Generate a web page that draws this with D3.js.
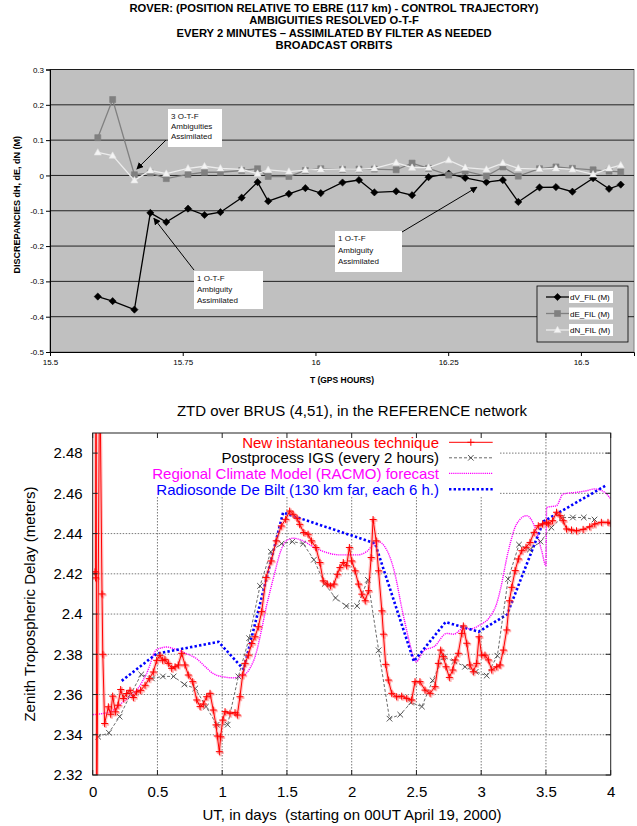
<!DOCTYPE html>
<html>
<head>
<meta charset="utf-8">
<script src="https://cdn.jsdelivr.net/npm/d3@7/dist/d3.min.js"></script>
<style>
html,body{margin:0;padding:0;background:#fff;}
svg{display:block;}
</style>
</head>
<body>
<svg id="chart" width="637" height="826"></svg>
<script>
// ===== Upper panel: rover discrepancies vs control trajectory =====
const topTitle = [
  "ROVER: (POSITION RELATIVE TO EBRE (117 km) - CONTROL TRAJECTORY)",
  "AMBIGUITIES RESOLVED  O-T-F",
  "EVERY 2 MINUTES \u2013 ASSIMILATED BY FILTER AS NEEDED",
  "BROADCAST ORBITS"
];
const gpsHours = [15.590,15.618,15.659,15.689,15.719,15.760,15.791,15.821,15.861,15.891,
  15.911,15.950,15.981,16.010,16.051,16.082,16.111,16.152,16.182,16.213,
  16.251,16.282,16.322,16.353,16.382,16.422,16.453,16.484,16.523,16.553,16.575];
const dV = [-0.343,-0.356,-0.380,-0.106,-0.132,-0.094,-0.112,-0.104,-0.063,-0.019,
  -0.073,-0.052,-0.036,-0.050,-0.020,-0.013,-0.048,-0.045,-0.056,-0.005,
  0.005,-0.007,-0.019,-0.013,-0.075,-0.034,-0.033,-0.046,-0.008,-0.038,-0.026];
const dE = [0.107,0.215,0.002,0.007,-0.009,0.003,0.009,0.009,0.014,0.019,
  -0.003,-0.003,0.014,0.019,0.017,0.018,0.018,0.016,0.035,0.020,
  0.001,0.012,-0.002,0.024,-0.002,0.019,0.024,0.020,0.016,0.012,0.010];
const dN = [0.065,0.056,-0.014,0.014,0.005,0.020,0.026,0.020,0.017,0.005,
  0.016,0.011,0.015,0.017,0.018,0.018,0.020,0.036,0.022,0.022,
  0.043,0.022,0.017,0.035,0.020,0.018,0.020,0.017,0.003,0.020,0.029];
const topYTicks = [0.3,0.2,0.1,0,-0.1,-0.2,-0.3,-0.4,-0.5];
const topXTicks = [15.5,15.75,16,16.25,16.5];
const topSeriesNames = ["dV_FIL (M)","dE_FIL (M)","dN_FIL (M)"];
const topNotes = [
  {lines:["3 O-T-F","Ambiguities","Assimilated"], at:[15.658,0.004]},
  {lines:["1 O-T-F","Ambiguity","Assimilated"], at:[15.690,-0.110]},
  {lines:["1 O-T-F","Ambiguity","Assimilated"], at:[16.308,-0.022]}
];

// ===== Lower panel: ZTD over BRUS =====
const newTechDays = [0.018,0.022,0.026,0.031,0.054,0.072,0.078,0.092,
  0.121,0.139,0.154,0.175,0.195,0.216,0.237,0.262,0.288,0.314,0.339,0.370,0.404,0.437,0.468,0.494,0.519,0.540,
  0.558,0.584,0.610,0.636,0.661,0.687,0.713,0.738,0.772,0.803,0.829,0.854,0.880,0.906,0.931,0.952,0.962,0.978,0.988,1.004,
  1.022,1.060,1.099,1.117,1.137,1.158,1.176,1.202,1.228,1.253,1.279,1.305,
  1.339,1.378,1.417,1.456,1.490,1.521,1.547,1.578,1.598,1.630,1.663,1.689,1.723,1.754,1.780,1.811,1.837,1.863,1.889,1.909,
  1.935,1.961,1.982,2.000,2.026,2.052,2.078,2.104,2.130,2.150,2.165,2.189,2.207,2.233,2.245,2.262,
  2.283,2.309,2.347,2.386,2.425,2.463,2.489,2.527,2.566,2.605,2.643,2.669,2.687,2.708,2.728,2.754,2.780,2.798,2.823,2.850,
  2.862,2.888,2.913,2.939,2.965,2.983,3.004,3.029,3.055,3.081,3.120,3.145,3.171,3.197,
  3.218,3.236,3.262,3.287,3.313,3.346,3.377,3.408,3.441,3.474,3.505,3.518,3.551,3.582,3.608,3.633,3.659,3.697,3.736,3.787,
  3.838,3.877,3.928,3.979,4.000];
const newTechZtd = [2.421,2.418,2.56,2.29,2.53,2.410,2.38,2.3456,
  2.3539,2.3502,2.3592,2.3514,2.3547,2.3625,2.358,2.3605,2.3621,2.3585,2.3613,2.3621,2.3646,2.3679,2.3712,2.377,2.3795,2.377,
  2.3775,2.3755,2.373,2.3738,2.3747,2.3805,2.3747,2.3697,2.3664,2.3573,2.354,2.3553,2.3589,2.3606,2.3523,2.3449,2.3394,2.3316,2.339,2.3473,
  2.3515,2.3507,2.351,2.3498,2.3589,2.3697,2.3755,2.3796,2.3854,2.3887,2.3937,2.4012,
  2.4182,2.4264,2.4364,2.4438,2.4471,2.4512,2.4496,2.4476,2.4446,2.4405,2.4397,2.4364,2.4331,2.4256,2.4165,2.4149,2.414,2.4149,2.4198,2.4231,
  2.4256,2.424,2.4331,2.4264,2.4215,2.4149,2.4099,2.4066,2.4116,2.4281,2.4470,2.4364,2.4215,2.4016,2.390,2.375,
  2.3672,2.3606,2.3589,2.3592,2.3581,2.3573,2.3664,2.3664,2.3622,2.3606,2.3639,2.3755,2.3821,2.3788,2.3738,2.3685,2.3722,2.3772,2.3805,2.3904,
  2.3941,2.3855,2.3747,2.3713,2.3755,2.3887,2.3796,2.3796,2.3772,2.3722,2.3738,2.3747,2.3821,2.3921,
  2.4066,2.4133,2.4216,2.4274,2.4315,2.4332,2.4356,2.4406,2.4439,2.4448,2.4456,2.4448,2.4464,2.4506,2.4489,2.4464,2.4423,2.4418,2.4414,2.4421,
  2.4434,2.4448,2.4456,2.4456,2.4451];
const igsDays = [0.042,0.125,0.208,0.292,0.375,0.458,0.542,0.625,0.708,0.792,0.875,0.958,1.042,1.125,1.208,1.292,
  1.375,1.458,1.542,1.625,1.708,1.792,1.875,1.958,2.042,2.125,2.208,2.292,2.375,2.458,2.542,2.625,
  2.708,2.792,2.875,2.958,3.042,3.125,3.208,3.292,3.375,3.458,3.542,3.625,3.708,3.792,3.875];
const igsZtd = [2.339,2.341,2.349,2.360,2.370,2.368,2.369,2.369,2.365,2.363,2.354,2.345,2.345,2.369,2.388,2.414,
  2.431,2.435,2.436,2.435,2.427,2.415,2.408,2.404,2.404,2.417,2.382,2.348,2.350,2.356,2.354,2.367,
  2.3785,2.3765,2.3738,2.3713,2.3694,2.3793,2.4174,2.4345,2.432,2.436,2.443,2.448,2.448,2.448,2.447];
const racmoDays = [0,0.134,0.236,0.339,0.416,0.494,0.571,0.648,0.725,0.802,0.866,0.931,1.008,1.085,1.149,1.213,1.26,1.30,
  1.342,1.40,1.45,1.495,1.546,1.624,1.702,1.806,1.909,2.039,2.117,2.168,2.207,2.251,2.33,2.39,2.45,2.479,2.497,2.557,
  2.64,2.733,2.787,2.862,2.915,2.991,3.068,3.12,3.146,3.21,3.274,3.351,3.415,3.467,3.50,3.505,3.582,3.633,3.736,3.813,
  3.877,3.954,4.0];
const racmoZtd = [2.350,2.3514,2.3564,2.3621,2.3704,2.3823,2.3836,2.3823,2.3803,2.3778,2.374,2.3704,2.3688,2.3683,2.3691,2.3729,2.380,2.391,
  2.404,2.419,2.431,2.4364,2.4377,2.4364,2.4334,2.4306,2.4294,2.4294,2.4311,2.4347,2.436,2.4339,2.421,2.402,2.385,2.378,2.3763,2.3818,
  2.384,2.3904,2.390,2.3929,2.3926,2.3946,2.3987,2.4053,2.4116,2.4315,2.4448,2.4489,2.4431,2.4315,2.424,2.453,2.4539,2.4597,2.4605,2.4613,
  2.4622,2.4605,2.4572];
const sondeDays = [0.224,0.494,0.972,1.165,1.47,2.18,2.48,2.725,2.98,3.2,3.48,3.96];
const sondeZtd = [2.3668,2.3803,2.3862,2.3725,2.4504,2.4352,2.3765,2.396,2.3912,2.3998,2.446,2.4638];
const ztdTicks = [2.32,2.34,2.36,2.38,2.40,2.42,2.44,2.46,2.48];
const dayTicks = [0,0.5,1,1.5,2,2.5,3,3.5,4];
const ztdSeriesNames = [
  "New instantaneous technique",
  "Postprocess IGS (every 2 hours)",
  "Regional Climate Model (RACMO) forecast",
  "Radiosonde De Bilt (130 km far, each 6 h.)"
];

// ---------------------------------------------------------------
const svg = d3.select("#chart");
const SANS = "'Liberation Sans', Arial, Helvetica, sans-serif";
const defs = svg.append("defs");

// ---------------- upper panel ----------------
const tx = d3.scaleLinear().domain([15.5, 16.6]).range([50, 634]);
const ty = d3.scaleLinear().domain([-0.5, 0.3]).range([352, 69.5]);
const up = svg.append("g");

topTitle.forEach((t, i) => {
  up.append("text").attr("x", 334).attr("y", 11.5 + i * 12.6)
    .attr("text-anchor", "middle").attr("font-family", SANS)
    .attr("font-weight", "bold").attr("font-size", 11.2).text(t);
});

up.append("rect").attr("x", tx(15.5)).attr("y", ty(0.3))
  .attr("width", tx(16.6) - tx(15.5)).attr("height", ty(-0.5) - ty(0.3))
  .attr("fill", "#c0c0c0").attr("stroke", "#808080").attr("stroke-width", 1);

up.append("g").selectAll("line").data(topYTicks.filter(v => v > -0.5)).join("line")
  .attr("x1", tx(15.5)).attr("x2", tx(16.6))
  .attr("y1", d => ty(d)).attr("y2", d => ty(d))
  .attr("stroke", "#111").attr("stroke-width", 0.9);

const fmtTop = d => d === 0 ? "0" : d.toFixed(1);
const yAxTop = up.append("g").attr("transform", `translate(${tx(15.5)},0)`)
  .call(d3.axisLeft(ty).tickValues(topYTicks).tickSize(4).tickFormat(fmtTop));
const xAxTop = up.append("g").attr("transform", `translate(0,${ty(-0.5)})`)
  .call(d3.axisBottom(tx).tickValues(topXTicks).tickSize(4).tickFormat(d => String(d)));
[yAxTop, xAxTop].forEach(a => {
  a.attr("font-family", SANS).attr("font-size", 8);
  a.selectAll("path,line").attr("stroke", "#000");
  a.selectAll("text").attr("fill", "#000");
});
yAxTop.selectAll("text").attr("x", -6);

up.append("text").attr("transform", `translate(20,${(ty(0.3) + ty(-0.5)) / 2 - 6}) rotate(-90)`)
  .attr("text-anchor", "middle").attr("font-family", SANS).attr("font-weight", "bold")
  .attr("font-size", 9).text("DISCREPANCIES dH, dE, dN  (M)");
up.append("text").attr("x", 342).attr("y", 383).attr("text-anchor", "middle")
  .attr("font-family", SANS).attr("font-weight", "bold").attr("font-size", 8.5).text("T (GPS HOURS)");

const markerPaths = {
  diamond: "M0,-3.6L3.6,0L0,3.6L-3.6,0Z",
  square: "M-3,-3H3V3H-3Z",
  triangle: "M0,-3.8L3.6,2.6H-3.6Z"
};
const topSeries = [
  {vals: dV, color: "#000", mark: "diamond", mfill: "#000", mstroke: "#000", w: 1.3},
  {vals: dE, color: "#808080", mark: "square", mfill: "#808080", mstroke: "#808080", w: 1.3},
  {vals: dN, color: "#ececec", mark: "triangle", mfill: "#f4f4f4", mstroke: "#e0e0e0", w: 1.3}
];
const topLine = d3.line().x((d, i) => tx(gpsHours[i])).y(d => ty(d));
topSeries.forEach(s => {
  up.append("path").attr("d", topLine(s.vals)).attr("fill", "none")
    .attr("stroke", s.color).attr("stroke-width", s.w);
  up.append("g").selectAll("path").data(s.vals).join("path")
    .attr("transform", (d, i) => `translate(${tx(gpsHours[i])},${ty(d)})`)
    .attr("d", markerPaths[s.mark]).attr("fill", s.mfill)
    .attr("stroke", s.mstroke).attr("stroke-width", 0.6);
});

// annotation call-outs
defs.append("marker").attr("id", "ah").attr("viewBox", "0 0 10 10")
  .attr("refX", 9).attr("refY", 5).attr("markerWidth", 7).attr("markerHeight", 7)
  .attr("markerUnits", "userSpaceOnUse").attr("orient", "auto")
  .append("path").attr("d", "M0,0L10,5L0,10Z").attr("fill", "#000");
const noteBoxes = [
  {x: 168, y: 109, w: 54, h: 38, from: [166, 140], dy: 10},
  {x: 194, y: 271, w: 69, h: 38, from: [194, 270], dy: 11},
  {x: 335, y: 231, w: 67, h: 41, from: [402, 232], dy: 11.5}
];
topNotes.forEach((n, i) => {
  const b = noteBoxes[i];
  up.append("rect").attr("x", b.x).attr("y", b.y).attr("width", b.w).attr("height", b.h)
    .attr("fill", "#fff");
  n.lines.forEach((ln, j) => {
    up.append("text").attr("x", b.x + 3).attr("y", b.y + 10 + j * b.dy)
      .attr("font-family", SANS).attr("font-size", 8).attr("fill", "#111").text(ln);
  });
  const tip = [tx(n.at[0]) + (i === 2 ? -2 : 3), ty(n.at[1]) + (i === 0 ? -5 : 4)];
  up.append("line").attr("x1", b.from[0]).attr("y1", b.from[1])
    .attr("x2", tip[0]).attr("y2", tip[1])
    .attr("stroke", "#000").attr("stroke-width", 1).attr("marker-end", "url(#ah)");
});

// legend
const lg = up.append("g");
lg.append("rect").attr("x", 537).attr("y", 286).attr("width", 91).attr("height", 56)
  .attr("fill", "#c0c0c0").attr("stroke", "#000").attr("stroke-width", 0.8);
topSeries.forEach((s, i) => {
  const yy = 297 + i * 16.5;
  lg.append("line").attr("x1", 546).attr("x2", 569).attr("y1", yy).attr("y2", yy)
    .attr("stroke", s.color).attr("stroke-width", 1.3);
  lg.append("path").attr("transform", `translate(557.5,${yy})`).attr("d", markerPaths[s.mark])
    .attr("fill", s.mfill).attr("stroke", s.mstroke).attr("stroke-width", 0.6);
  lg.append("rect").attr("x", 569).attr("y", yy - 6).attr("width", 44).attr("height", 12).attr("fill", "#fff");
  lg.append("text").attr("x", 570).attr("y", yy + 3).attr("font-family", SANS)
    .attr("font-size", 8).attr("fill", "#000").text(topSeriesNames[i]);
});

// ---------------- lower panel ----------------
const bx = d3.scaleLinear().domain([0, 4]).range([92.7, 610.7]);
const by = d3.scaleLinear().domain([2.32, 2.49]).range([775, 433]);
const low = svg.append("g");
const keyRight = 500, keyBottom = 497;

low.append("text").attr("x", 352).attr("y", 415.5).attr("text-anchor", "middle")
  .attr("font-family", SANS).attr("font-size", 15).text("ZTD over BRUS (4,51), in the REFERENCE network");

// dotted grid, kept clear of the key block
const grid = low.append("g").attr("stroke", "#7a7a7a").attr("stroke-width", 1)
  .attr("stroke-dasharray", "1.5,1.5").attr("fill", "none");
ztdTicks.filter(v => v > 2.32).forEach(v => {
  const yy = by(v);
  grid.append("line").attr("x1", yy < keyBottom ? keyRight : bx(0)).attr("x2", bx(4))
    .attr("y1", yy).attr("y2", yy);
});
dayTicks.filter(d => d > 0 && d < 4).forEach(d => {
  const xx = bx(d);
  grid.append("line").attr("x1", xx).attr("x2", xx)
    .attr("y1", xx < keyRight ? keyBottom : by(2.49)).attr("y2", by(2.32));
});

defs.append("clipPath").attr("id", "plotclip").append("rect")
  .attr("x", bx(0)).attr("y", by(2.49)).attr("width", bx(4) - bx(0)).attr("height", by(2.32) - by(2.49));
const data = low.append("g").attr("clip-path", "url(#plotclip)");

const lineB = d3.line().x(d => bx(d[0])).y(d => by(d[1]));
const racmoPts = d3.zip(racmoDays, racmoZtd);
const sondePts = d3.zip(sondeDays, sondeZtd);
const igsPts = d3.zip(igsDays, igsZtd);
const newPts = d3.zip(newTechDays, newTechZtd);

const plusD = "M-3.5,0H3.5M0,-3.5V3.5";
const crossD = "M-2.8,-2.8L2.8,2.8M-2.8,2.8L2.8,-2.8";

// RACMO forecast (fine magenta dots)
data.append("path").attr("d", lineB.curve(d3.curveMonotoneX)(racmoPts)).attr("fill", "none")
  .attr("stroke", "#ff00ff").attr("stroke-width", 1.4).attr("stroke-dasharray", "1.2,0.9");
// radiosonde (coarse blue dots)
data.append("path").attr("d", lineB.curve(d3.curveLinear)(sondePts)).attr("fill", "none")
  .attr("stroke", "#0000ff").attr("stroke-width", 2.6).attr("stroke-dasharray", "2.4,2.2");
// IGS post-processed (grey dashes with crosses)
data.append("path").attr("d", lineB(igsPts)).attr("fill", "none")
  .attr("stroke", "#444").attr("stroke-width", 0.8).attr("stroke-dasharray", "3,2");
data.append("g").selectAll("path").data(igsPts).join("path")
  .attr("transform", d => `translate(${bx(d[0])},${by(d[1])})`).attr("d", crossD)
  .attr("stroke", "#444").attr("stroke-width", 0.9).attr("fill", "none");
// new instantaneous technique: soft halo, line, plus markers
data.append("path").attr("d", lineB(newPts)).attr("fill", "none")
  .attr("stroke", "#ff7070").attr("stroke-opacity", 0.4).attr("stroke-width", 3.5).attr("stroke-linejoin", "round");
data.append("g").selectAll("path").data(newPts).join("path")
  .attr("transform", d => `translate(${bx(d[0]) + 1},${by(d[1]) + 1})`).attr("d", plusD)
  .attr("stroke", "#ff6060").attr("stroke-opacity", 0.45).attr("stroke-width", 2.5);
data.append("path").attr("d", lineB(newPts)).attr("fill", "none")
  .attr("stroke", "#ff0000").attr("stroke-width", 1);
data.append("g").selectAll("path").data(newPts).join("path")
  .attr("transform", d => `translate(${bx(d[0])},${by(d[1])})`).attr("d", plusD)
  .attr("stroke", "#ff0000").attr("stroke-width", 1);

// frame with inward ticks on all sides
low.append("rect").attr("x", bx(0)).attr("y", by(2.49)).attr("width", bx(4) - bx(0))
  .attr("height", by(2.32) - by(2.49)).attr("fill", "none").attr("stroke", "#222").attr("stroke-width", 1);
const tk = low.append("g").attr("stroke", "#222").attr("stroke-width", 1);
ztdTicks.forEach(v => {
  tk.append("line").attr("x1", bx(0)).attr("x2", bx(0) + 5).attr("y1", by(v)).attr("y2", by(v));
  tk.append("line").attr("x1", bx(4)).attr("x2", bx(4) - 5).attr("y1", by(v)).attr("y2", by(v));
});
dayTicks.forEach(d => {
  tk.append("line").attr("x1", bx(d)).attr("x2", bx(d)).attr("y1", by(2.32)).attr("y2", by(2.32) - 5);
  tk.append("line").attr("x1", bx(d)).attr("x2", bx(d)).attr("y1", by(2.49)).attr("y2", by(2.49) + 5);
});

const yAxB = low.append("g").attr("transform", `translate(${bx(0)},0)`)
  .call(d3.axisLeft(by).tickValues(ztdTicks).tickSize(0).tickPadding(10)
    .tickFormat(d => (Math.round(d * 100) / 100).toString()));
const xAxB = low.append("g").attr("transform", `translate(0,${by(2.32)})`)
  .call(d3.axisBottom(bx).tickValues(dayTicks).tickSize(0).tickPadding(11)
    .tickFormat(d => String(d)));
[yAxB, xAxB].forEach(a => {
  a.attr("font-family", SANS).attr("font-size", 15);
  a.select(".domain").remove();
  a.selectAll("text").attr("fill", "#000");
});

low.append("text").attr("transform", `translate(35,${(by(2.49) + by(2.32)) / 2}) rotate(-90)`)
  .attr("text-anchor", "middle").attr("font-family", SANS).attr("font-size", 15)
  .text("Zenith Tropospheric Delay (meters)");
low.append("text").attr("x", 352).attr("y", 820).attr("text-anchor", "middle")
  .attr("font-family", SANS).attr("font-size", 15)
  .style("white-space", "pre")
  .text("UT, in days  (starting on 00UT April 19, 2000)");

// key
const keyColors = ["#ff0000", "#000000", "#ff00ff", "#0000ff"];
const keyY = [442.3, 457.8, 473.4, 489.2];
const key = low.append("g");
ztdSeriesNames.forEach((name, i) => {
  key.append("text").attr("x", 439).attr("y", keyY[i] + 5.4).attr("text-anchor", "end")
    .attr("font-family", SANS).attr("font-size", 15).attr("fill", keyColors[i]).text(name);
});
const kx0 = 449, kx1 = 492.7, kxm = (kx0 + kx1) / 2;
key.append("line").attr("x1", kx0).attr("x2", kx1).attr("y1", keyY[0]).attr("y2", keyY[0])
  .attr("stroke", "#ff0000").attr("stroke-width", 1);
key.append("path").attr("transform", `translate(${kxm},${keyY[0]})`).attr("d", plusD)
  .attr("stroke", "#ff0000").attr("stroke-width", 1);
key.append("line").attr("x1", kx0).attr("x2", kx1).attr("y1", keyY[1]).attr("y2", keyY[1])
  .attr("stroke", "#444").attr("stroke-width", 0.8).attr("stroke-dasharray", "3,2");
key.append("path").attr("transform", `translate(${kxm},${keyY[1]})`).attr("d", crossD)
  .attr("stroke", "#444").attr("stroke-width", 0.9);
key.append("line").attr("x1", kx0).attr("x2", kx1).attr("y1", keyY[2]).attr("y2", keyY[2])
  .attr("stroke", "#ff00ff").attr("stroke-width", 1.4).attr("stroke-dasharray", "1.2,0.9");
key.append("line").attr("x1", kx0).attr("x2", kx1).attr("y1", keyY[3]).attr("y2", keyY[3])
  .attr("stroke", "#0000ff").attr("stroke-width", 2.6).attr("stroke-dasharray", "2.4,2.2");
</script>
</body>
</html>
